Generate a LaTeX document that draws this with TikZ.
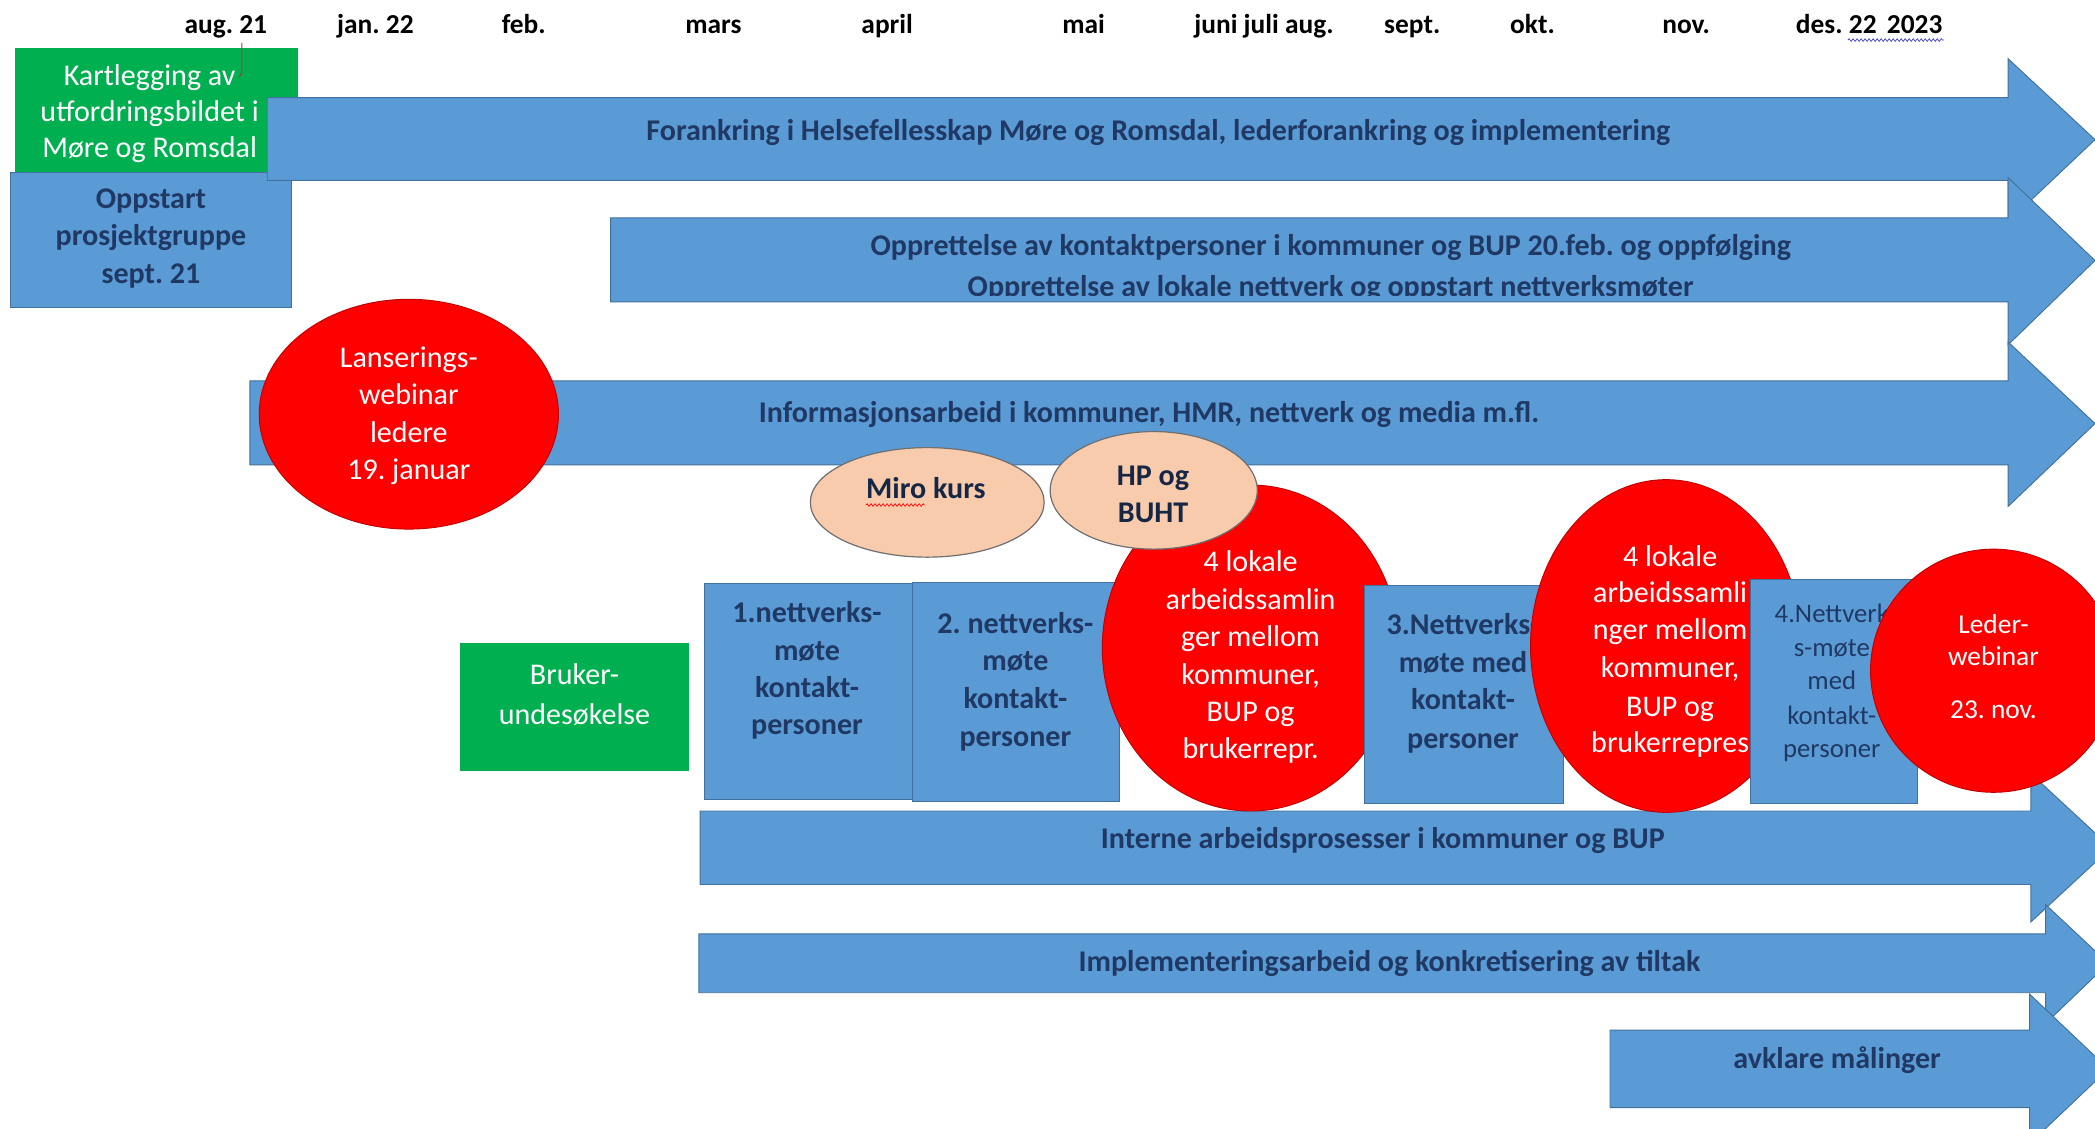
\documentclass[tikz,border=0pt]{standalone}
\usepackage{fontspec}
\setmainfont{Carlito}
\usetikzlibrary{shapes.geometric,decorations.pathmorphing}
\definecolor{ublue}{HTML}{5B9BD5}
\definecolor{ubord}{HTML}{41719C}
\definecolor{unavy}{HTML}{1F3864}
\definecolor{ured}{HTML}{FF0000}
\definecolor{uredb}{HTML}{C00000}
\definecolor{ugreen}{HTML}{00B050}
\definecolor{upeach}{HTML}{F8CBAD}
\definecolor{upeachb}{HTML}{6F6F6F}
\definecolor{utick}{HTML}{8B4B3B}
\definecolor{uwave}{HTML}{4040C0}
\frenchspacing
\begin{document}
\begin{tikzpicture}[x=1pt,y=-1pt,
  bluebox/.style={rectangle,fill=ublue,draw=ubord,line width=0.7pt,inner sep=0pt},
  greenbox/.style={rectangle,fill=ugreen,inner sep=0pt},
  redell/.style={ellipse,fill=ured,draw=uredb,line width=0.7pt,inner sep=0pt},
  peachell/.style={ellipse,fill=upeach,draw=upeachb,line width=0.9pt,inner sep=0pt},
  barrow/.style={fill=ublue,draw=ubord,line width=0.7pt},
  lbl/.style={anchor=base,inner sep=0pt},
  nt/.style={lbl,text=unavy,font=\bfseries\fontsize{22.5}{27}\selectfont},
  ntr/.style={lbl,text=unavy,font=\fontsize{20}{24}\selectfont},
  wt/.style={lbl,text=white,font=\fontsize{22.5}{27}\selectfont},
  wts/.style={lbl,text=white,font=\fontsize{20.5}{24}\selectfont},
  mt/.style={lbl,text=black,font=\bfseries\fontsize{20.5}{25}\selectfont},
  squiggle/.style={decorate,decoration={snake,amplitude=1pt,segment length=3pt},line width=0.5pt},
]
\useasboundingbox (0,0) rectangle (1568,845);
\clip (0,0) rectangle (1568,845);
\fill[white] (0,0) rectangle (1568,845);

% month labels
\node[mt] (m1) at (169,25) {aug. 21};
\node[mt] (m2) at (281,25) {jan. 22};
\node[mt] (m3) at (392,25) {feb.};
\node[mt] (m4) at (534,25) {mars};
\node[mt] (m5) at (664,25) {april};
\node[mt] (m6) at (811,25) {mai};
\node[mt] (m7) at (946,25) {juni juli aug.};
\node[mt] (m8) at (1057,25) {sept.};
\node[mt] (m9) at (1147,25) {okt.};
\node[mt] (m10) at (1262,25) {nov.};
\node[mt] (m11) at (1399,25) {des. 22\hspace{0.15em} 2023};
\draw[squiggle,uwave] (1383,30) -- (1455,30);

% Kartlegging
\node[greenbox,minimum width=212pt,minimum height=99pt] (kart) at (117,85.5) {};
\node[wt] (kart1) at (112,64) {Kartlegging av};
\node[wt] (kart2) at (112,91) {utfordringsbildet i};
\node[wt] (kart3) at (112,118) {Møre og Romsdal};
\draw[utick,line width=0.8pt] (181,32) -- (181,54) -- (179,58);

% Oppstart
\node[bluebox,minimum width=210pt,minimum height=101pt] (opp) at (113,179.5) {};
\node[nt] (opp1) at (113,156) {Oppstart};
\node[nt] (opp2) at (113,184) {prosjektgruppe};
\node[nt] (opp3) at (113,212) {sept. 21};

% Arrow 1
\draw[barrow] (200,73) -- (1503,73) -- (1503,44) -- (1568,104.5) -- (1503,166) -- (1503,135) -- (200,135) -- cycle;
\node[nt] (forank) at (867,105) {Forankring i Helsefellesskap Møre og Romsdal, lederforankring og implementering};

% Arrow 2
\draw[barrow] (457,163) -- (1503,163) -- (1503,133) -- (1568,195) -- (1503,258) -- (1503,226) -- (457,226) -- cycle;
\begin{scope}
\clip (457,163) rectangle (1503,221);
\node[nt] (oppr1) at (996,191) {Opprettelse av kontaktpersoner i kommuner og BUP 20.feb. og oppfølging};
\node[nt] (oppr2) at (996,222) {Opprettelse av lokale nettverk og oppstart nettverksmøter};
\end{scope}

% Arrow 3
\draw[barrow] (187,285) -- (1503,285) -- (1503,256) -- (1568,317) -- (1503,379) -- (1503,348) -- (187,348) -- cycle;
\node[nt] (info) at (860,316) {Informasjonsarbeid i kommuner, HMR, nettverk og media m.fl.};

% Arrows 4-6
\draw[barrow] (524,607) -- (1520,607) -- (1520,579) -- (1580,634.5) -- (1520,690) -- (1520,662) -- (524,662) -- cycle;
\node[nt] (intern) at (1035,635) {Interne arbeidsprosesser i kommuner og BUP};
\draw[barrow] (523,699) -- (1531,699) -- (1531,677) -- (1578,721) -- (1531,766) -- (1531,743) -- (523,743) -- cycle;
\node[nt] (impl) at (1040,727) {Implementeringsarbeid og konkretisering av tiltak};
\draw[barrow] (1205,771) -- (1519,771) -- (1519,744) -- (1578,800) -- (1519,856) -- (1519,829) -- (1205,829) -- cycle;
\node[nt] (avkl) at (1375,800) {avklare målinger};

% Lanserings-webinar
\node[redell,minimum width=224pt,minimum height=172pt] (lans) at (306,310) {};
\node[wt] (lans1) at (306,275) {Lanserings-};
\node[wt] (lans2) at (306,303) {webinar};
\node[wt] (lans3) at (306,331) {ledere};
\node[wt] (lans4) at (306,359) {19. januar};

% Box 1, 2
\node[bluebox,minimum width=156pt,minimum height=161pt] (b1) at (605,517.5) {};
\node[nt] (b1a) at (604,466) {1.nettverks-};
\node[nt] (b1b) at (604,494) {møte};
\node[nt] (b1c) at (604,522) {kontakt-};
\node[nt] (b1d) at (604,550) {personer};
\node[bluebox,minimum width=155pt,minimum height=164pt] (b2) at (760.5,518) {};
\node[nt] (b2a) at (760,474) {2. nettverks-};
\node[nt] (b2b) at (760,502) {møte};
\node[nt] (b2c) at (760,530) {kontakt-};
\node[nt] (b2d) at (760,559) {personer};

% Red A
\node[redell,minimum width=222pt,minimum height=244pt] (ra) at (936,485) {};
\node[wt] (ra1) at (936,428) {4 lokale};
\node[wt] (ra2) at (936,456) {arbeidssamlin};
\node[wt] (ra3) at (936,484) {ger mellom};
\node[wt] (ra4) at (936,512) {kommuner,};
\node[wt] (ra5) at (936,540) {BUP og};
\node[wt] (ra6) at (936,568) {brukerrepr.};

% Miro, HP
\node[peachell,minimum width=175pt,minimum height=82pt] (miro) at (694,376) {};
\node[nt,text=unavy!70!black] (mirot) at (693,373) {Miro kurs};
\draw[squiggle,red] (648,378) -- (692,378);
\node[peachell,minimum width=155pt,minimum height=88pt] (hp) at (863.5,367) {};
\node[nt,text=unavy!70!black] (hp1) at (863,363) {HP og};
\node[nt,text=unavy!70!black] (hp2) at (863,391) {BUHT};

% Box 3
\node[bluebox,minimum width=149pt,minimum height=163pt] (b3) at (1095.5,519.5) {};
\node[nt] (b3a) at (1095,475) {3.Nettverks-};
\node[nt] (b3b) at (1095,503) {møte med};
\node[nt] (b3c) at (1095,531) {kontakt-};
\node[nt] (b3d) at (1095,560) {personer};

% Red B
\node[redell,minimum width=203pt,minimum height=249pt] (rb) at (1247,483.5) {};
\node[wt] (rb1) at (1250,424) {4 lokale};
\node[wt] (rb2) at (1250,451) {arbeidssamli};
\node[wt] (rb3) at (1250,479) {nger mellom};
\node[wt] (rb4) at (1250,507) {kommuner,};
\node[wt] (rb5) at (1250,536) {BUP og};
\node[wt] (rb6) at (1250,563) {brukerrepres};

% Box 4
\node[bluebox,minimum width=125pt,minimum height=167pt] (b4) at (1372.5,517.5) {};
\node[ntr] (b4a) at (1371,466) {4.Nettverk};
\node[ntr] (b4b) at (1371,491) {s-møte};
\node[ntr] (b4c) at (1371,516) {med};
\node[ntr] (b4d) at (1371,542) {kontakt-};
\node[ntr] (b4e) at (1371,567) {personer};

% Red C
\node[redell,minimum width=184pt,minimum height=182pt] (rc) at (1492,502) {};
\node[wts] (rc1) at (1492,474) {Leder-};
\node[wts] (rc2) at (1492,498) {webinar};
\node[wts] (rc3) at (1492,538) {23. nov.};

% Bruker
\node[greenbox,minimum width=172pt,minimum height=96pt] (bruk) at (430,529) {};
\node[wt] (bruk1) at (430,512) {Bruker-};
\node[wt] (bruk2) at (430,542) {undesøkelse};
\end{tikzpicture}
\end{document}
